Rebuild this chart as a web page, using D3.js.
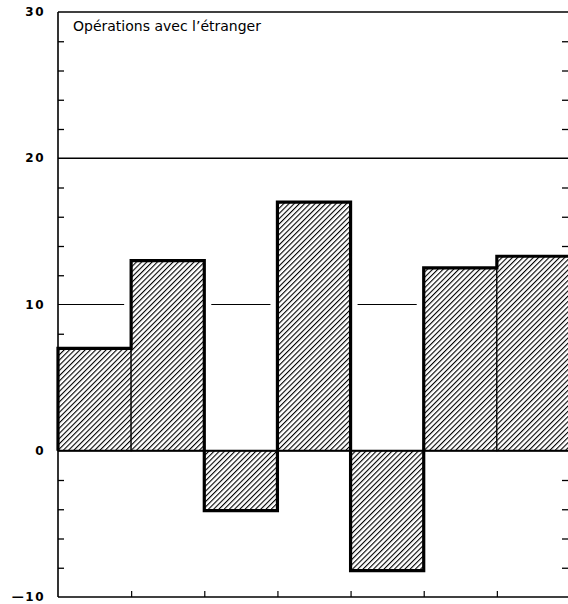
<!DOCTYPE html>
<html>
<head>
<meta charset="utf-8">
<script src="https://cdn.jsdelivr.net/npm/d3@7"></script>
<style>
  body { margin: 0; background: #fff; }
  svg { display: block; }
  .lbl { font-family: "DejaVu Sans", sans-serif; font-weight: bold; font-size: 12px; letter-spacing: 1.5px; }
  .title { font-family: "DejaVu Sans", sans-serif; font-size: 14px; }
</style>
</head>
<body>
<div id="chart"></div>
<script>
// values, one per period
var periods = [0, 1, 2, 3, 4, 5, 6];
var values = [7.0, 13.0, -4.1, 17.0, -8.2, 12.5, 13.3];
var majorTicks = [-10, 0, 10, 20, 30];
var minorTicks = [-8, -6, -4, -2, 2, 4, 6, 8, 12, 14, 16, 18, 22, 24, 26, 28];
var tickLabels = {"-10": "\u201410", "0": "0", "10": "10", "20": "20", "30": "30"};
var title = "Opérations avec l\u2019étranger";

var W = 568, H = 604;
var plotLeft = 58, plotRight = 568, plotTop = 12, plotBottom = 597;

var svg = d3.select("#chart").append("svg")
	.attr("width", W)
	.attr("height", H);

// hatch pattern
var defs = svg.append("defs");
defs.append("pattern")
	.attr("id", "hatch")
	.attr("patternUnits", "userSpaceOnUse")
	.attr("width", 3.7)
	.attr("height", 3.7)
	.attr("patternTransform", "rotate(45)")
	.append("line")
	.attr("x1", 0).attr("y1", 0)
	.attr("x2", 0).attr("y2", 3.7)
	.attr("stroke", "#000")
	.attr("stroke-width", 2.2);

var xScale = d3.scaleLinear().domain([0, 7]).range([plotLeft, 570]);
var yScale = d3.scaleLinear().domain([-10, 30]).range([plotBottom, plotTop]);

// minor ticks, left side pointing in
svg.append("g")
	.attr("transform", "translate(" + plotLeft + ",0)")
	.call(d3.axisRight(yScale).tickValues(minorTicks).tickSize(6).tickFormat(""))
	.call(function(g) { g.select(".domain").remove(); g.selectAll("line").attr("stroke-width", 1.3); });

// minor ticks, right side pointing in
svg.append("g")
	.attr("transform", "translate(" + plotRight + ",0)")
	.call(d3.axisLeft(yScale).tickValues(minorTicks).tickSize(6).tickFormat(""))
	.call(function(g) { g.select(".domain").remove(); g.selectAll("line").attr("stroke-width", 1.3); });

// bottom ticks at period boundaries
svg.append("g")
	.attr("transform", "translate(0," + plotBottom + ")")
	.call(d3.axisTop(xScale).tickValues([1, 2, 3, 4, 5, 6]).tickSize(6).tickFormat(""))
	.call(function(g) { g.select(".domain").remove(); g.selectAll("line").attr("stroke-width", 1.2); });

// grid lines at 30 and 20
svg.selectAll(".grid")
	.data([30, 20])
	.enter().append("line")
	.attr("x1", plotLeft).attr("x2", plotRight)
	.attr("y1", function(d) { return yScale(d); })
	.attr("y2", function(d) { return yScale(d); })
	.attr("stroke", "#000")
	.attr("stroke-width", 1.5);

// line at 10, only in the gaps above low bars
svg.selectAll(".ten")
	.data(periods.filter(function(i) { return values[i] < 10; }))
	.enter().append("line")
	.attr("x1", function(i) { return i == 0 ? plotLeft : xScale(i) + 7; })
	.attr("x2", function(i) { return xScale(i + 1) - 7; })
	.attr("y1", yScale(10)).attr("y2", yScale(10))
	.attr("stroke", "#000")
	.attr("stroke-width", 1.2);

// bars
var bars = svg.selectAll(".bar")
	.data(periods)
	.enter().append("g");

bars.append("rect")
	.attr("x", function(i) { return xScale(i); })
	.attr("width", function(i) { return xScale(i + 1) - xScale(i); })
	.attr("y", function(i) { return yScale(Math.max(0, values[i])); })
	.attr("height", function(i) { return Math.abs(yScale(values[i]) - yScale(0)); })
	.attr("fill", "#fff");

bars.append("rect")
	.attr("x", function(i) { return xScale(i); })
	.attr("width", function(i) { return xScale(i + 1) - xScale(i); })
	.attr("y", function(i) { return yScale(Math.max(0, values[i])); })
	.attr("height", function(i) { return Math.abs(yScale(values[i]) - yScale(0)); })
	.attr("fill", "url(#hatch)")
	.attr("stroke", "#000")
	.attr("stroke-width", 1.2);

// thick outline of the whole profile
var outline = [{p: 0, v: 0}];
periods.forEach(function(i) { outline.push({p: i, v: values[i]}); });
outline.push({p: 7, v: 0});

svg.append("path")
	.datum(outline)
	.attr("d", d3.line()
		.x(function(d) { return xScale(d.p); })
		.y(function(d) { return yScale(d.v); })
		.curve(d3.curveStepAfter))
	.attr("fill", "none")
	.attr("stroke", "#000")
	.attr("stroke-width", 3.2)
	.attr("stroke-linejoin", "miter");

// zero line
svg.append("line")
	.attr("x1", plotLeft).attr("x2", plotRight)
	.attr("y1", yScale(0)).attr("y2", yScale(0))
	.attr("stroke", "#000")
	.attr("stroke-width", 2);

// left axis and bottom line
svg.append("line")
	.attr("x1", plotLeft).attr("x2", plotLeft)
	.attr("y1", plotTop).attr("y2", plotBottom)
	.attr("stroke", "#000").attr("stroke-width", 1.6);
svg.append("line")
	.attr("x1", plotLeft).attr("x2", plotRight)
	.attr("y1", plotBottom).attr("y2", plotBottom)
	.attr("stroke", "#000").attr("stroke-width", 1.6);

// major labels
svg.selectAll(".lbl")
	.data(majorTicks)
	.enter().append("text")
	.attr("class", "lbl")
	.attr("x", 45)
	.attr("y", function(d) { return yScale(d); })
	.attr("dy", "0.35em")
	.attr("text-anchor", "end")
	.text(function(d) { return tickLabels[d]; });

svg.append("text")
	.attr("class", "title")
	.attr("x", 73)
	.attr("y", 31)
	.text(title);
</script>
</body>
</html>
